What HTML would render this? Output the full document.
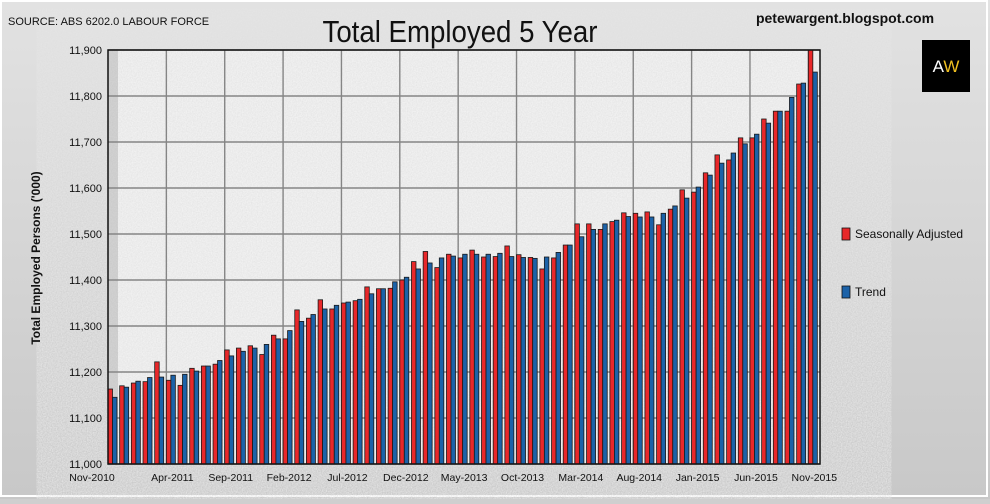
<!DOCTYPE html>
<html><head><meta charset="utf-8"><style>
body{margin:0;width:990px;height:499px;overflow:hidden;background:#cfcfcf;font-family:"Liberation Sans",sans-serif}
</style></head><body>
<svg width="990" height="499" xmlns="http://www.w3.org/2000/svg">
<defs>
<filter id="tex"><feTurbulence type="fractalNoise" baseFrequency="0.8" numOctaves="2" result="n"/><feColorMatrix type="matrix" values="0 0 0 0 0.78  0 0 0 0 0.78  0 0 0 0 0.78  0 0 0 -1.6 1.25"/></filter>
<linearGradient id="bg" x1="0" y1="0" x2="0" y2="1"><stop offset="0" stop-color="#e2e2e2"/><stop offset="1" stop-color="#c8c8c8"/></linearGradient>
</defs>
<rect x="0" y="0" width="990" height="499" fill="url(#bg)"/>
<rect x="1" y="1" width="986" height="495" fill="none" stroke="#fff" stroke-width="2"/>
<rect x="108" y="50" width="712" height="414" fill="#f2f2f2"/>
<rect x="108" y="50" width="712" height="414" fill="#fff" filter="url(#tex)" opacity="1"/>
<rect x="108" y="50" width="10" height="414" fill="#999" opacity="0.35"/>
<text x="8" y="25" font-size="11" fill="#111">SOURCE: ABS 6202.0 LABOUR FORCE</text>
<text x="460" y="42" font-size="31" text-anchor="middle" fill="#111" textLength="275" lengthAdjust="spacingAndGlyphs">Total Employed 5 Year</text>
<text x="845" y="23" font-size="14" font-weight="bold" text-anchor="middle" fill="#111">petewargent.blogspot.com</text>
<g><rect x="922" y="40" width="48" height="52" fill="#000"/><text x="946" y="72" font-size="17" fill="#fff" text-anchor="middle">A<tspan fill="#f0c020">W</tspan></text></g>
<text transform="translate(40,258) rotate(-90)" font-size="12" font-weight="bold" text-anchor="middle" fill="#111">Total Employed Persons ('000)</text>
<g id="grid"></g><g id="bars"></g><g id="axes"></g>
<g>
<rect x="842" y="228" width="8" height="12" fill="#e8282a" stroke="#111" stroke-width="0.8"/>
<text x="855" y="238" font-size="12" fill="#111">Seasonally Adjusted</text>
<rect x="842" y="286" width="8" height="12" fill="#1c62a8" stroke="#111" stroke-width="0.8"/>
<text x="855" y="296" font-size="12" fill="#111">Trend</text>
</g>
</svg>
<script>
const months = ["Nov-2010","Dec-2010","Jan-2011","Feb-2011","Mar-2011","Apr-2011","May-2011","Jun-2011","Jul-2011","Aug-2011","Sep-2011","Oct-2011","Nov-2011","Dec-2011","Jan-2012","Feb-2012","Mar-2012","Apr-2012","May-2012","Jun-2012","Jul-2012","Aug-2012","Sep-2012","Oct-2012","Nov-2012","Dec-2012","Jan-2013","Feb-2013","Mar-2013","Apr-2013","May-2013","Jun-2013","Jul-2013","Aug-2013","Sep-2013","Oct-2013","Nov-2013","Dec-2013","Jan-2014","Feb-2014","Mar-2014","Apr-2014","May-2014","Jun-2014","Jul-2014","Aug-2014","Sep-2014","Oct-2014","Nov-2014","Dec-2014","Jan-2015","Feb-2015","Mar-2015","Apr-2015","May-2015","Jun-2015","Jul-2015","Aug-2015","Sep-2015","Oct-2015","Nov-2015"];
const seasAdj = [11163,11170,11176,11179,11222,11182,11171,11208,11213,11217,11248,11252,11257,11238,11280,11272,11335,11317,11357,11337,11350,11355,11385,11381,11382,11400,11440,11462,11427,11456,11448,11465,11450,11451,11474,11455,11449,11424,11448,11476,11522,11522,11510,11527,11546,11545,11548,11520,11554,11596,11591,11633,11672,11661,11709,11709,11750,11767,11767,11826,11910];
const trend = [11145,11167,11180,11188,11189,11193,11195,11202,11213,11225,11235,11245,11252,11260,11272,11290,11310,11325,11337,11345,11352,11358,11370,11381,11396,11406,11424,11437,11448,11452,11456,11456,11456,11458,11451,11449,11447,11450,11460,11476,11494,11510,11522,11530,11538,11537,11537,11545,11561,11578,11602,11628,11654,11676,11696,11717,11741,11767,11797,11828,11852];
const yTicks = [11000,11100,11200,11300,11400,11500,11600,11700,11800,11900];
const xTickIdx = [0,5,10,15,20,25,30,35,40,45,50,55,60];

const NS="http://www.w3.org/2000/svg";
const X0=108,X1=820,Y0=464,Y1=50,VMIN=11000,VMAX=11900;
const slot=(X1-X0)/months.length;
const xs=i=>X0+i*slot;
const ys=v=>Y0-(Math.min(v,VMAX)-VMIN)/(VMAX-VMIN)*(Y0-Y1);
function mk(t,a,p){const e=document.createElementNS(NS,t);for(const k in a)e.setAttribute(k,a[k]);p.appendChild(e);return e;}
const grid=document.getElementById('grid'),bars=document.getElementById('bars'),axes=document.getElementById('axes');
yTicks.forEach(v=>{
  const l=mk('line',{x1:X0,x2:X1,y1:ys(v),y2:ys(v),stroke:'#858585','stroke-width':1.4},grid);
  
  
  const t=mk('text',{x:X0-6,y:ys(v)+4,'font-size':11,'text-anchor':'end',fill:'#111'},axes);
  t.textContent=v.toLocaleString('en-US');
  
  
});
xTickIdx.forEach(i=>{
  if(i>0){const l=mk('line',{x1:xs(i),x2:xs(i),y1:Y1,y2:Y0,stroke:'#858585','stroke-width':1.4},grid);
  
  }
  const cx=i===0?92:xs(i)+6;
  const t=mk('text',{x:cx,y:Y0+17,'font-size':10.5,'text-anchor':'middle',fill:'#111'},axes);
  t.textContent=months[i];
  
  
});
const bw=4.5;
months.forEach((m,i)=>{
  const x=xs(i);
  const r=mk('rect',{x:x,y:ys(seasAdj[i]),width:bw,height:Y0-ys(seasAdj[i]),fill:'#e8282a',stroke:'#1a1a1a','stroke-width':0.8},bars);
  
  
  const b=mk('rect',{x:x+bw,y:ys(trend[i]),width:bw,height:Y0-ys(trend[i]),fill:'#1c62a8',stroke:'#1a1a1a','stroke-width':0.8},bars);
  
  
});
const f=mk('rect',{x:X0,y:Y1,width:X1-X0,height:Y0-Y1,fill:'none',stroke:'#111','stroke-width':1.5},axes);


</script>
</body></html>
